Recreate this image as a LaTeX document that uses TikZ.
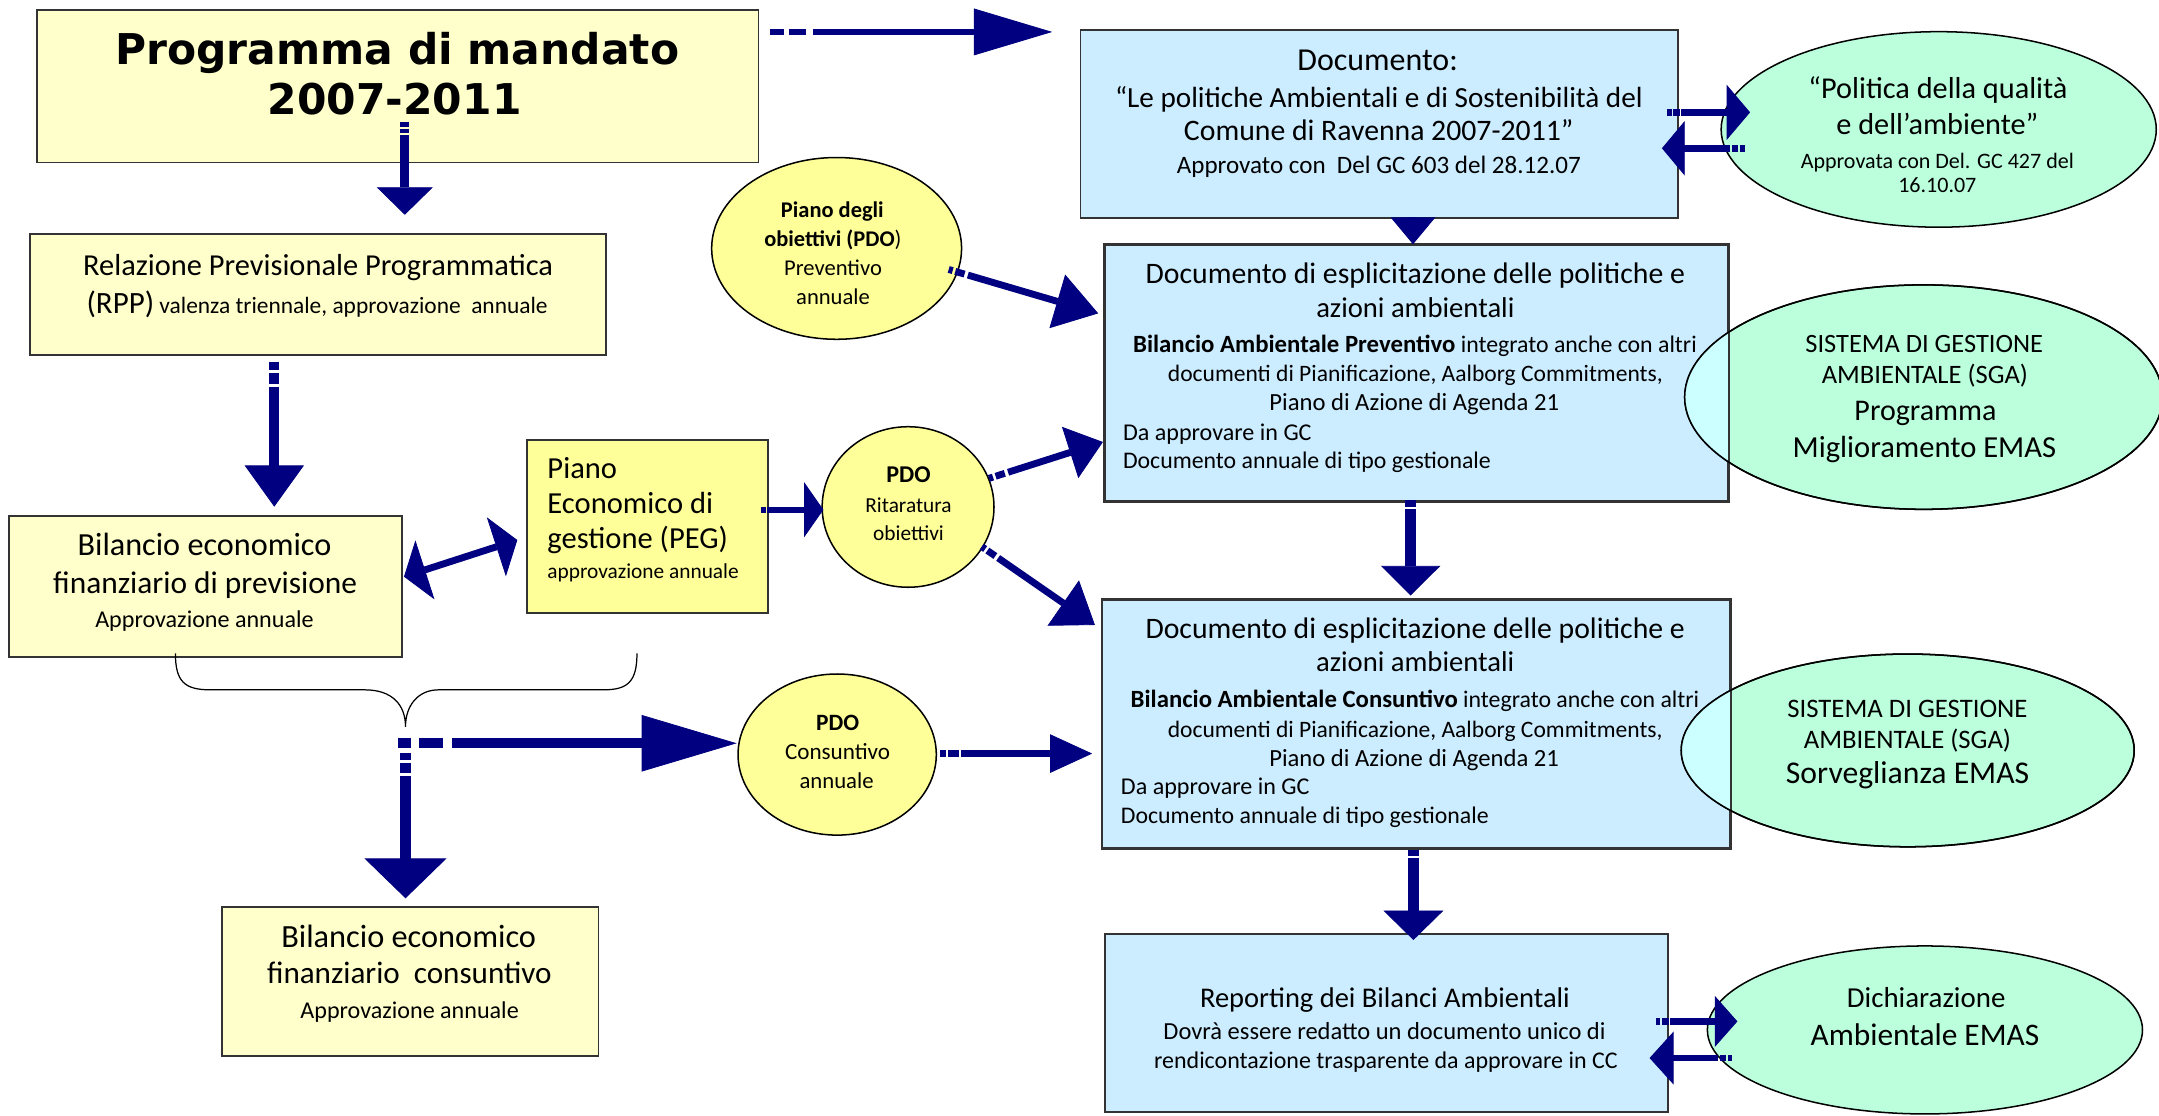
\documentclass[tikz,border=0pt]{standalone}
\usepackage{fontspec}
\setmainfont{Carlito}
\newfontfamily\titlefont{DejaVu Sans}
\usetikzlibrary{shapes.geometric,arrows.meta,calc}
\definecolor{navy}{RGB}{0,0,128}
\definecolor{ly}{RGB}{255,255,204}
\definecolor{yy}{RGB}{255,255,153}
\definecolor{lb}{RGB}{204,236,255}
\definecolor{mint}{RGB}{187,255,221}
\definecolor{cyov}{RGB}{204,255,255}
\newcommand\fz[1]{\fontsize{#1}{#1}\selectfont}
\begin{document}
\begin{tikzpicture}[x=1pt,y=-1pt,
 box/.style={draw=black!80, line width=1.3pt, inner sep=0pt, anchor=north west},
 ell/.style={ellipse, draw=black, line width=1.1pt, inner sep=0pt},
 txt/.style={inner sep=0pt, anchor=mid, text=black, yshift=-4pt},
 ltxt/.style={inner sep=0pt, anchor=mid west, text=black, yshift=-4pt},
 ttl/.style={inner sep=0pt, anchor=base, text=black, font=\titlefont\bfseries\fz{30.8}},
 blk/.style n args={3}{draw=navy, line width=#1, -{Triangle[length=#2, width=#3, line width=0.6pt]}},
 dblk/.style n args={3}{draw=navy, line width=#1, {Triangle[length=#2, width=#3, line width=0.6pt]}-{Triangle[length=#2, width=#3, line width=0.6pt]}},
 sA/.style={dash pattern=on 3pt off 2pt on 7pt off 2.5pt on 2000pt off 1pt},
 sB/.style={dash pattern=on 3.2pt off 1.3pt on 4.6pt off 1.2pt on 2000pt off 1pt},
]
\clip (0,0) rectangle (1568,810.5);
\fill[white] (0,0) rectangle (1568,810.5);

% ---------- boxes ----------
\node[box, fill=ly, minimum width=523.7pt, minimum height=110.6pt] (prog) at (26.5,6.8) {};
\node[box, fill=ly, minimum width=417.8pt, minimum height=87.5pt] (rpp) at (21.4,169.5) {};
\node[box, fill=ly, minimum width=285.3pt, minimum height=102.4pt] (bilp) at (6.1,374) {};
\node[box, fill=yy, minimum width=174.9pt, minimum height=125.7pt] (peg) at (382,318.8) {};
\node[box, fill=ly, minimum width=273.5pt, minimum height=108.2pt] (bilc) at (160.5,658) {};
\node[box, fill=lb, minimum width=434pt, minimum height=136.8pt] (doca) at (784.1,21) {};
\node[box, fill=lb, minimum width=453pt, minimum height=185.7pt] (docp) at (801.6,177.4) {};
\node[box, fill=lb, minimum width=455.6pt, minimum height=179.9pt] (docc) at (800,435.3) {};
\node[box, fill=lb, minimum width=408.9pt, minimum height=129.1pt] (rep) at (801.6,677.9) {};

% ---------- ellipses ----------
\node[ell, fill=yy, minimum width=181.5pt, minimum height=132pt] (pdop) at (607.6,180.4) {};
\node[ell, fill=yy, minimum width=124.8pt, minimum height=116.6pt] (pdor) at (659.5,368.2) {};
\node[ell, fill=yy, minimum width=144pt, minimum height=117pt] (pdoc) at (608,548) {};
\node[ell, fill=mint, minimum width=316pt, minimum height=142pt] (pol) at (1408,94) {};
\node[ell, fill=mint, minimum width=347pt, minimum height=163pt] (sga1) at (1397,288.4) {};
\node[ell, fill=mint, minimum width=329pt, minimum height=140pt] (sga2) at (1385.5,545) {};
\node[ell, fill=mint, minimum width=316pt, minimum height=122pt] (dich) at (1398,748) {};

% overlaps of the SGA ellipses with the blue boxes
\begin{scope}
\clip (docp.north west) rectangle (docp.south east);
\fill[cyov] (sga1.center) ellipse [x radius=173.5pt, y radius=81.5pt];
\end{scope}
\begin{scope}
\clip (docc.north west) rectangle (docc.south east);
\fill[cyov] (sga2.center) ellipse [x radius=164.5pt, y radius=70pt];
\end{scope}
\draw[draw=black!80, line width=1.3pt] (docp.north west) rectangle (docp.south east);
\draw[draw=black!80, line width=1.3pt] (docc.north west) rectangle (docc.south east);
\draw[black, line width=1.1pt] (sga1.center) ellipse [x radius=173.5pt, y radius=81.5pt];
\draw[black, line width=1.1pt] (sga2.center) ellipse [x radius=164.5pt, y radius=70pt];

% ---------- brace ----------
\coordinate (brl) at (127.4,474.5);
\coordinate (brt) at (294.5,527.8);
\coordinate (brr) at (462.6,474.5);
\draw[black, line width=0.9pt] (brl) .. controls (127.4,495) and (134,501) .. (152.9,501)
  -- (264.9,501) .. controls (285,501) and (294.5,512) .. (brt)
  .. controls (294.5,512) and (304,501) .. (318.4,501)
  -- (438.2,501) .. controls (456,501) and (462.6,495) .. (brr);

% ---------- arrows ----------
\coordinate (a1s) at (559.4,23.2);   \coordinate (a1e) at (764.2,23.2);
\coordinate (a2s) at (294,88.4);     \coordinate (a2e) at (294,156);
\coordinate (a3s) at (199.2,262.7);  \coordinate (a3e) at (199.2,368);
\coordinate (a4s) at (293.4,418.8);  \coordinate (a4e) at (375.7,392.2);
\coordinate (a5s) at (552.8,370.2);  \coordinate (a5e) at (598,370.2);
\coordinate (a6s) at (718.3,347.4);  \coordinate (a6e) at (801,321);
\coordinate (a7s) at (713,397);      \coordinate (a7e) at (795.2,453.9);
\coordinate (a8s) at (689,195.7);    \coordinate (a8e) at (797.6,227.6);
\coordinate (a9s) at (1026.2,157.8); \coordinate (a9e) at (1026.2,177.4);
\coordinate (a10s) at (1024.5,363);  \coordinate (a10e) at (1024.5,432.5);
\coordinate (a11s) at (1026.5,617);  \coordinate (a11e) at (1026.5,682.7);
\coordinate (a12s) at (1210.8,81.6); \coordinate (a12e) at (1271,81.6);
\coordinate (a13s) at (1267,107.7);  \coordinate (a13e) at (1207,107.7);
\coordinate (a14s) at (1202.7,741.8);\coordinate (a14e) at (1261.8,741.8);
\coordinate (a15s) at (1258,768.4);  \coordinate (a15e) at (1198,768.4);
\coordinate (a16s) at (289.4,539.8); \coordinate (a16e) at (535,539.8);
\coordinate (a17s) at (294.5,536);   \coordinate (a17e) at (294.5,652.4);
\coordinate (a18s) at (682.7,547.3); \coordinate (a18e) at (793.2,547.3);

\draw[blk={4.5pt}{57pt}{34pt}, dash pattern=on 10pt off 3.5pt on 12.5pt off 5pt on 2000pt off 1pt] (a1s) -- (a1e);
\draw[blk={6.5pt}{20pt}{40.7pt}, dash pattern=on 3.5pt off 1.5pt on 3.4pt off 1.6pt on 2000pt off 1pt] (a2s) -- (a2e);
\draw[blk={7pt}{30pt}{43pt}, dash pattern=on 6pt off 2.3pt on 8pt off 2.3pt on 2000pt off 1pt] (a3s) -- (a3e);
\draw[dblk={5pt}{16pt}{45pt}] (a4s) -- (a4e);
\draw[blk={4.6pt}{14pt}{40pt}, dash pattern=on 3.2pt off 1.2pt on 2000pt off 1pt] (a5s) -- (a5e);
\draw[blk={5pt}{25pt}{39pt}, sA] (a6s) -- (a6e);
\draw[blk={5pt}{28pt}{40pt}, sA] (a7s) -- (a7e);
\draw[blk={5pt}{31pt}{40.5pt}, sA] (a8s) -- (a8e);
\draw[blk={6pt}{19.6pt}{32.5pt}] (a9s) -- (a9e);
\draw[blk={8pt}{21.5pt}{43pt}, dash pattern=on 5pt off 1.5pt on 2000pt off 1pt] (a10s) -- (a10e);
\draw[blk={8.5pt}{21.4pt}{43.6pt}, dash pattern=on 4.4pt off 1.5pt on 2000pt off 1pt] (a11s) -- (a11e);
\draw[blk={4.8pt}{17pt}{40pt}, sB] (a12s) -- (a12e);
\draw[blk={4.8pt}{16.5pt}{39.5pt}, sB] (a13s) -- (a13e);
\draw[blk={5pt}{16.4pt}{37pt}, sB] (a14s) -- (a14e);
\draw[blk={5pt}{17.5pt}{38.5pt}, sB] (a15s) -- (a15e);
\draw[blk={7.3pt}{69pt}{41pt}, dash pattern=on 8.6pt off 6.6pt on 17.4pt off 6.6pt on 2000pt off 1pt] (a16s) -- (a16e);
\draw[blk={8.6pt}{29pt}{59.6pt}, dash pattern=on 7.5pt off 3.5pt on 5pt off 2.4pt on 7.2pt off 2pt on 2000pt off 1pt] (a17s) -- (a17e);
\draw[blk={5.3pt}{30.6pt}{28pt}, dash pattern=on 4pt off 1.5pt on 8pt off 2pt on 2000pt off 1pt] (a18s) -- (a18e);

% ---------- texts ----------
\node[ttl] (prog1) at (288.5,46.5) {Programma di mandato};
\node[ttl] (prog2) at (286.6,83) {2007-2011};

\node[txt, font=\fz{22.1}] (rpp1) at (231,193.7) {Relazione Previsionale Programmatica};
\node[txt] (rpp2) at (230.3,221.5) {{\fz{22.5}(RPP)}{\fz{17} valenza triennale, approvazione\ \ annuale}};

\node[txt, font=\fz{23.4}] (bilp1) at (148.5,397) {Bilancio economico};
\node[txt, font=\fz{22.8}] (bilp2) at (149,424.9) {finanziario di previsione};
\node[txt, font=\fz{17.5}] (bilp3) at (148.5,449.6) {Approvazione annuale};

\node[ltxt, font=\fz{22.2}] (peg1) at (397.4,341.3) {Piano};
\node[ltxt, font=\fz{22.2}] (peg2) at (397.4,366.8) {Economico di};
\node[ltxt, font=\fz{22.2}] (peg3) at (397.4,392.2) {gestione (PEG)};
\node[ltxt, font=\fz{15.5}] (peg4) at (397.4,414) {approvazione annuale};

\node[txt, font=\fz{23.5}] (bilc1) at (296.8,681.5) {Bilancio economico};
\node[txt, font=\fz{22.6}] (bilc2) at (297.3,708.1) {finanziario\ \ consuntivo};
\node[txt, font=\fz{17.5}] (bilc3) at (297.5,733.5) {Approvazione annuale};

\node[txt, font=\bfseries\fz{16.3}] (pdop1) at (604.5,151.8) {Piano degli};
\node[txt, font=\fz{16.3}] (pdop2) at (604.9,172.8) {{\bfseries obiettivi (PDO})};
\node[txt, font=\fz{16.4}] (pdop3) at (605,193.9) {Preventivo};
\node[txt, font=\fz{16.4}] (pdop4) at (605,214.5) {annuale};

\node[txt, font=\bfseries\fz{17.5}] (pdor1) at (659.8,343.8) {PDO};
\node[txt, font=\fz{15.5}] (pdor2) at (659.8,365.5) {Ritaratura};
\node[txt, font=\fz{15.5}] (pdor3) at (659.8,386.1) {obiettivi};

\node[txt, font=\bfseries\fz{17}] (pdoc1) at (608.3,524.1) {PDO};
\node[txt, font=\fz{16.8}] (pdoc2) at (608.3,545.4) {Consuntivo};
\node[txt, font=\fz{16.5}] (pdoc3) at (607.6,566) {annuale};

\node[txt, font=\fz{23.2}] (doca1) at (1000.5,44.8) {Documento:};
\node[txt, font=\fz{21.2}] (doca2) at (1001.4,71.9) {“Le politiche Ambientali e di Sostenibilità del};
\node[txt, font=\fz{21.6}] (doca3) at (1001.3,95.6) {Comune di Ravenna 2007-2011”};
\node[txt, font=\fz{18.2}] (doca4) at (1001.4,119.3) {Approvato con\ \ Del GC 603 del 28.12.07};

\node[txt, font=\fz{21.6}] (docp1) at (1027.9,199.7) {Documento di esplicitazione delle politiche e};
\node[txt, font=\fz{20.8}] (docp2) at (1027.9,224) {azioni ambientali};
\node[txt] (docp3) at (1027.6,249.3) {{\bfseries\fz{18}Bilancio Ambientale Preventivo}{\fz{17.3} integrato anche con altri}};
\node[txt, font=\fz{17.1}] (docp4) at (1027.9,271) {documenti di Pianificazione, Aalborg Commitments,};
\node[txt, font=\fz{17.9}] (docp5) at (1027.1,291.7) {Piano di Azione di Agenda 21};
\node[ltxt, font=\fz{17.5}] (docp6) at (815.4,313.5) {Da approvare in GC};
\node[ltxt, font=\fz{17.3}] (docp7) at (815.4,334) {Documento annuale di tipo gestionale};

\node[txt, font=\fz{21.6}] (docc1) at (1027.8,457.3) {Documento di esplicitazione delle politiche e};
\node[txt, font=\fz{20.8}] (docc2) at (1027.8,481.5) {azioni ambientali};
\node[txt] (docc3) at (1027.6,507.2) {{\bfseries\fz{18}Bilancio Ambientale Consuntivo}{\fz{17.3} integrato anche con altri}};
\node[txt, font=\fz{17.1}] (docc4) at (1027.8,529.2) {documenti di Pianificazione, Aalborg Commitments,};
\node[txt, font=\fz{17.9}] (docc5) at (1027,550) {Piano di Azione di Agenda 21};
\node[ltxt, font=\fz{17.5}] (docc6) at (813.9,570.9) {Da approvare in GC};
\node[ltxt, font=\fz{17.3}] (docc7) at (813.9,591.4) {Documento annuale di tipo gestionale};

\node[txt, font=\fz{20.7}] (rep1) at (1005.8,725.5) {Reporting dei Bilanci Ambientali};
\node[txt, font=\fz{17.8}] (rep2) at (1005.5,748.9) {Dovrà essere redatto un documento unico di};
\node[txt, font=\fz{17.4}] (rep3) at (1006.5,769.8) {rendicontazione trasparente da approvare in CC};

\node[txt, font=\fz{22}] (pol1) at (1407.5,65.4) {“Politica della qualità};
\node[txt, font=\fz{22}] (pol2) at (1407,91.5) {e dell’ambiente”};
\node[txt, font=\fz{16}] (pol3) at (1407,116.2) {Approvata con Del. GC 427 del};
\node[txt, font=\fz{16}] (pol4) at (1407,133.1) {16.10.07};

\node[txt, font=\fz{19.2}] (sga11) at (1397.5,249.3) {SISTEMA DI GESTIONE};
\node[txt, font=\fz{19.3}] (sga12) at (1398,272.3) {AMBIENTALE (SGA)};
\node[txt, font=\fz{21.8}] (sga13) at (1398.4,299) {Programma};
\node[txt, font=\fz{22.2}] (sga14) at (1397.6,325.6) {Miglioramento EMAS};

\node[txt, font=\fz{19.4}] (sga21) at (1385.3,514.4) {SISTEMA DI GESTIONE};
\node[txt, font=\fz{19.4}] (sga22) at (1385.3,537.2) {AMBIENTALE (SGA)};
\node[txt, font=\fz{23}] (sga23) at (1385.4,562.9) {Sorveglianza EMAS};

\node[txt, font=\fz{21}] (dich1) at (1398.9,725.5) {Dichiarazione};
\node[txt, font=\fz{22.8}] (dich2) at (1398,752.7) {Ambientale EMAS};
\end{tikzpicture}
\end{document}
